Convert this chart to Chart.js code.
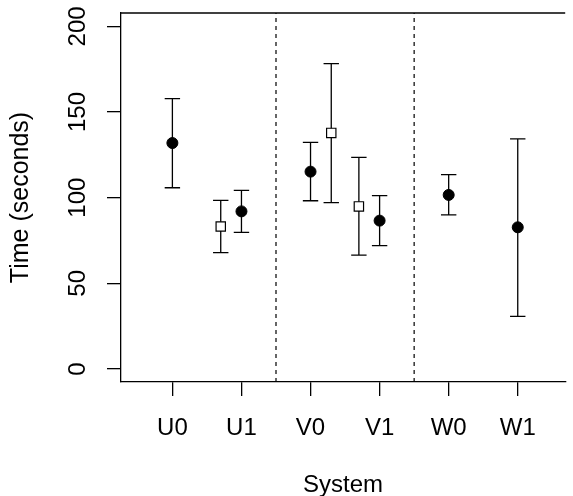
<!DOCTYPE html>
<html>
<head>
<meta charset="utf-8">
<script src="https://cdn.jsdelivr.net/npm/chart.js@4"></script>
<style>
html, body { margin: 0; padding: 0; background: #fff; overflow: hidden; }
</style>
</head>
<body>
<canvas id="chart" width="573" height="496"></canvas>
<script>
const systems = ['U0', 'U1', 'V0', 'V1', 'W0', 'W1'];
const yTicks = [0, 50, 100, 150, 200];
const dividers = [2.5, 4.5];

// filled circles
const circleX = [1, 2, 3, 4, 5, 6];
const circleMean = [131.9, 92.0, 115.2, 86.6, 101.6, 82.7];
const circleLow = [105.8, 79.7, 98.2, 72.0, 89.9, 30.7];
const circleHigh = [157.8, 104.3, 132.3, 101.2, 113.4, 134.3];

// open squares
const squareX = [1.7, 3.3, 3.7];
const squareMean = [83.2, 137.8, 94.9];
const squareLow = [67.9, 97.1, 66.5];
const squareHigh = [98.4, 178.2, 123.5];

const FONT = '"Liberation Sans", Arial, Helvetica, sans-serif';
const LW = 1.3;

// --- whiskers, dividers, top border ---
const framePlugin = {
  id: 'frame',
  beforeDatasetsDraw(chart) {
    const { ctx, chartArea: a, scales: { x, y } } = chart;
    ctx.save();
    ctx.strokeStyle = '#000';
    ctx.lineWidth = LW;

    // top border
    ctx.beginPath();
    ctx.moveTo(a.left, a.top);
    ctx.lineTo(a.right, a.top);
    ctx.stroke();

    // dashed separators
    ctx.lineWidth = 1.2;
    ctx.setLineDash([4, 4]);
    dividers.forEach(d => {
      const px = x.getPixelForValue(d);
      ctx.beginPath();
      ctx.moveTo(px, a.bottom);
      ctx.lineTo(px, a.top);
      ctx.stroke();
    });
    ctx.setLineDash([]);
    ctx.lineWidth = LW;

    // error bars
    chart.data.datasets.forEach(ds => {
      ds.data.forEach((pt, i) => {
        const px = x.getPixelForValue(pt.x);
        const top = y.getPixelForValue(ds.high[i]);
        const bot = y.getPixelForValue(ds.low[i]);
        ctx.beginPath();
        ctx.moveTo(px, top); ctx.lineTo(px, bot);
        ctx.moveTo(px - 7.7, top); ctx.lineTo(px + 7.7, top);
        ctx.moveTo(px - 7.7, bot); ctx.lineTo(px + 7.7, bot);
        ctx.stroke();
      });
    });
    ctx.restore();
  },
  afterDraw(chart) {
    // rotated y tick labels (R style)
    const { ctx, scales: { y } } = chart;
    ctx.save();
    ctx.font = '24px ' + FONT;
    ctx.fillStyle = '#000';
    ctx.textAlign = 'center';
    ctx.textBaseline = 'middle';
    y.ticks.forEach(t => {
      ctx.save();
      ctx.translate(y.right - 43, y.getPixelForValue(t.value));
      ctx.rotate(-Math.PI / 2);
      ctx.fillText(String(t.value), 0, 0);
      ctx.restore();
    });
    ctx.restore();
  }
};

new Chart(document.getElementById('chart'), {
  type: 'scatter',
  data: {
    datasets: [{
      data: circleX.map((v, i) => ({ x: v, y: circleMean[i] })),
      low: circleLow,
      high: circleHigh,
      pointStyle: 'circle',
      pointRadius: 5.5,
      backgroundColor: '#000',
      borderColor: '#000',
      borderWidth: 1
    }, {
      data: squareX.map((v, i) => ({ x: v, y: squareMean[i] })),
      low: squareLow,
      high: squareHigh,
      pointStyle: 'rect',
      pointRadius: 6.6,
      backgroundColor: '#fff',
      borderColor: '#000',
      borderWidth: 1.2
    }]
  },
  options: {
    responsive: false,
    animation: false,
    layout: { padding: { top: 13, left: 0, right: 0, bottom: 0 } },
    plugins: { legend: { display: false }, tooltip: { enabled: false } },
    scales: {
      x: {
        type: 'linear',
        min: 0.256,
        max: 6.687,
        afterBuildTicks: s => { s.ticks = circleX.map(v => ({ value: v })); },
        afterFit: s => { s.height = 114; },
        grid: { drawOnChartArea: false, color: '#000', tickLength: 14, lineWidth: LW },
        border: { color: '#000', width: LW },
        ticks: {
          autoSkip: false,
          maxRotation: 0,
          padding: 20,
          color: '#000',
          font: { family: FONT, size: 24, lineHeight: 1 },
          callback: (v, i) => systems[i]
        },
        title: {
          display: true,
          text: 'System',
          color: '#000',
          font: { family: FONT, size: 24, lineHeight: 0.9 },
          padding: { top: 0, bottom: 0 }
        }
      },
      y: {
        min: -7.6,
        max: 207.8,
        afterBuildTicks: s => { s.ticks = yTicks.map(v => ({ value: v })); },
        afterFit: s => { s.width = 121; },
        grid: { drawOnChartArea: false, color: '#000', tickLength: 14, lineWidth: LW },
        border: { color: '#000', width: LW },
        ticks: { display: false },
        title: {
          display: true,
          text: 'Time (seconds)',
          color: '#000',
          font: { family: FONT, size: 25, lineHeight: 1 },
          padding: { top: 8.5, bottom: 0 }
        }
      }
    }
  },
  plugins: [framePlugin]
});
</script>
</body>
</html>
